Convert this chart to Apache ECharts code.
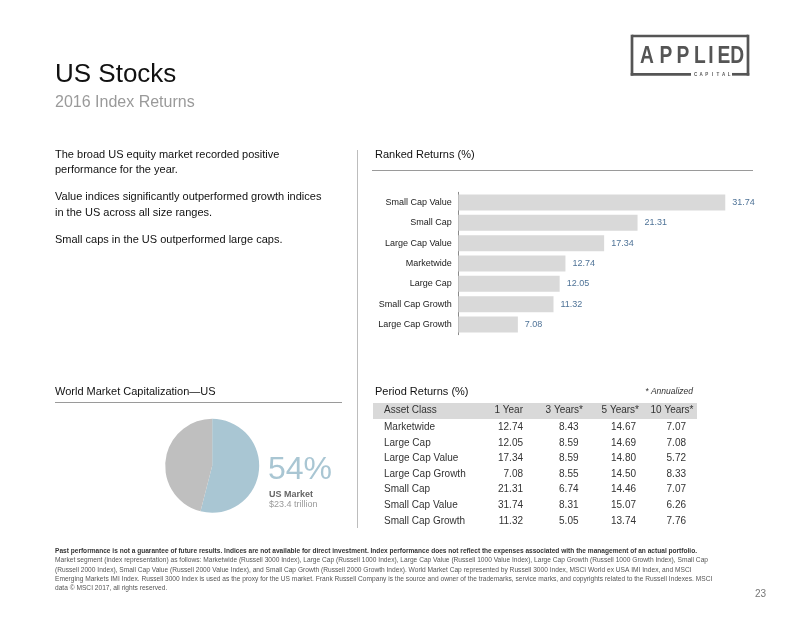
<!DOCTYPE html>
<html>
<head>
<meta charset="utf-8">
<script src="https://cdn.jsdelivr.net/npm/echarts@6/dist/echarts.min.js"></script>
<style>
html,body{margin:0;padding:0;background:#fff;}
#chart{width:800px;height:618px;}
</style>
</head>
<body>
<div id="chart"></div>
<script>
// ---------- data ----------
var rankedCategories = ['Small Cap Value','Small Cap','Large Cap Value','Marketwide','Large Cap','Small Cap Growth','Large Cap Growth'];
var rankedValues = [31.74, 21.31, 17.34, 12.74, 12.05, 11.32, 7.08];

var tableHeaders = ['Asset Class','1 Year','3 Years*','5 Years*','10 Years*'];
var tableClasses = ['Marketwide','Large Cap','Large Cap Value','Large Cap Growth','Small Cap','Small Cap Value','Small Cap Growth'];
var oneYear   = [12.74, 12.05, 17.34, 7.08, 21.31, 31.74, 11.32];
var threeYear = [8.43, 8.59, 8.59, 8.55, 6.74, 8.31, 5.05];
var fiveYear  = [14.67, 14.69, 14.80, 14.50, 14.46, 15.07, 13.74];
var tenYear   = [7.07, 7.08, 5.72, 8.33, 7.07, 6.26, 7.76];

var pieNames = ['US Market', 'Rest of World'];
var pieValues = [54, 46];

var bullets = [
  ['The broad US equity market recorded positive', 'performance for the year.'],
  ['Value indices significantly outperformed growth indices', 'in the US across all size ranges.'],
  ['Small caps in the US outperformed large caps.']
];

var footerLines = [
  'Past performance is not a guarantee of future results. Indices are not available for direct investment. Index performance does not reflect the expenses associated with the management of an actual portfolio.',
  'Market segment (index representation) as follows: Marketwide (Russell 3000 Index), Large Cap (Russell 1000 Index), Large Cap Value (Russell 1000 Value Index), Large Cap Growth (Russell 1000 Growth Index), Small Cap',
  '(Russell 2000 Index), Small Cap Value (Russell 2000 Value Index), and Small Cap Growth (Russell 2000 Growth Index). World Market Cap represented by Russell 3000 Index, MSCI World ex USA IMI Index, and MSCI',
  'Emerging Markets IMI Index. Russell 3000 Index is used as the proxy for the US market. Frank Russell Company is the source and owner of the trademarks, service marks, and copyrights related to the Russell Indexes. MSCI',
  'data \u00A9 MSCI 2017, all rights reserved.'
];

// ---------- helpers ----------
var FONT = "'Liberation Sans', Arial, sans-serif";
function txt(x, baseline, text, size, color, opts) {
  opts = opts || {};
  var weight = opts.weight || 'normal';
  var style = opts.style || 'normal';
  var fam = opts.family || FONT;
  var align = opts.align || 'left';
  var el = {
    type: 'text', x: x, y: baseline - 0.35 * size, silent: true,
    style: {
      text: text, fill: color,
      font: style + ' ' + weight + ' ' + size + 'px ' + fam,
      align: align, textAlign: align,
      verticalAlign: 'middle', textVerticalAlign: 'middle'
    }
  };
  if (opts.scaleX) { el.scaleX = opts.scaleX; el.originX = 0; el.originY = 0; }
  return el;
}
function line(x1, y1, x2, y2, color, w) {
  return { type: 'line', silent: true, shape: {x1: x1, y1: y1, x2: x2, y2: y2},
           style: {stroke: color, lineWidth: w || 1} };
}
function measure(text, font) {
  var c = document.createElement('canvas').getContext('2d');
  c.font = font;
  return c.measureText(text).width;
}

var g = [];
// Title
g.push(txt(55, 84, 'US Stocks', 26, '#111'));
g.push(txt(55, 108, '2016 Index Returns', 16, '#9a9a9a'));

// Logo
var LC = '#555';
g.push(line(632, 36, 748, 36, LC, 2.7));
g.push(line(632, 34.7, 632, 75.6, LC, 2.7));
g.push(line(748, 34.7, 748, 75.6, LC, 2.7));
g.push(line(630.7, 74.3, 691, 74.3, LC, 2.7));
g.push(line(732, 74.3, 749.3, 74.3, LC, 2.7));
var logoLetters = ['A','P','P','L','I','E','D'];
var logoX = [647, 665.8, 682.8, 699.8, 711, 723.8, 737.2];
logoLetters.forEach(function (l, i) {
  g.push(txt(logoX[i], 65.2, l, 24, LC, {weight: 'bold', align: 'center', scaleX: 0.8}));
});
var capLetters = ['C','A','P','I','T','A','L'];
capLetters.forEach(function (l, i) {
  g.push(txt(695.5 + i * 5.6, 76, l, 4.5, LC, {weight: 'bold', align: 'center'}));
});

// Left bullets
var bl = [[159.3, 174.3], [200.7, 216.7], [244.3]];
bullets.forEach(function (b, i) {
  b.forEach(function (s, j) { g.push(txt(55, bl[i][j], s, 11, '#111')); });
});

// Divider
g.push(line(357.5, 150, 357.5, 528, '#bdbdbd', 1));

// Ranked returns header
g.push(txt(375, 159, 'Ranked Returns (%)', 11, '#111'));
g.push(line(372, 170.5, 753, 170.5, '#9a9a9a', 1));

// World market cap header
g.push(txt(55, 396, 'World Market Capitalization\u2014US', 11, '#111'));
g.push(line(55, 402.5, 342, 402.5, '#9a9a9a', 1));
g.push(txt(268, 481.7, pieValues[0] + '%', 32, '#a9c6d3'));
g.push(txt(269, 497.3, pieNames[0], 9, '#666', {weight: 'bold'}));
g.push(txt(269, 507.3, '$23.4 trillion', 9, '#9a9a9a'));

// Period returns table
g.push(txt(375, 395.7, 'Period Returns (%)', 11, '#111'));
g.push(txt(693, 395, '* Annualized', 8.5, '#333', {style: 'italic', align: 'right'}));
g.push({type: 'rect', silent: true, shape: {x: 373, y: 403, width: 324, height: 16}, style: {fill: '#d9d9d9'}});
var headRight = [523, 583, 639, 693.5];
g.push(txt(384, 413.3, tableHeaders[0], 10, '#333'));
for (var h = 1; h < tableHeaders.length; h++) {
  g.push(txt(headRight[h - 1], 413.3, tableHeaders[h], 10, '#333', {align: 'right'}));
}
var colRight = [523, 578.5, 636, 686];
var cols = [oneYear, threeYear, fiveYear, tenYear];
tableClasses.forEach(function (c, r) {
  var b = 431 + r * 15.55;
  g.push(txt(384, b, c, 10, '#333'));
  cols.forEach(function (col, k) {
    g.push(txt(colRight[k], b, col[r].toFixed(2), 10, '#333', {align: 'right'}));
  });
});

// Footer (narrow face emulated by horizontal scaling)
var FS = 8;
var boldScale = 642 / measure(footerLines[0], 'bold ' + FS + 'px ' + FONT);
var regScale = 653 / measure(footerLines[1], 'normal ' + FS + 'px ' + FONT);
var footC = [550.7, 560, 569.3, 578.6, 587.9];
footerLines.forEach(function (s, i) {
  var base = footC[i] + 0.35 * FS;
  if (i === 0) g.push(txt(55, base, s, FS, '#333', {weight: 'bold', scaleX: boldScale}));
  else g.push(txt(55, base, s, FS, '#555', {scaleX: regScale}));
});
g.push(txt(766, 594 + 3.5, '23', 10, '#777', {align: 'right'}));

var chart = echarts.init(document.getElementById('chart'), null, {renderer: 'canvas'});
chart.setOption({
  animation: false,
  backgroundColor: '#fff',
  textStyle: {fontFamily: FONT},
  grid: {left: 458.3, top: 192.3, width: 302.8, height: 142.4, containLabel: false},
  xAxis: {type: 'value', min: 0, max: 36, show: false},
  yAxis: {
    type: 'category', data: rankedCategories, inverse: true,
    axisLine: {show: true, lineStyle: {color: '#8a8a8a', width: 1}},
    axisTick: {show: false},
    axisLabel: {fontSize: 9, color: '#222', margin: 6.5, fontFamily: FONT}
  },
  series: [
    {
      type: 'bar', data: rankedValues, barWidth: 16, silent: true,
      itemStyle: {color: '#d9d9d9'},
      label: {show: true, position: 'right', distance: 7, fontSize: 9, color: '#4f7397',
              fontFamily: FONT, formatter: function (p) { return p.value.toFixed(2); }}
    },
    {
      type: 'pie', center: [212.2, 465.8], radius: 47, startAngle: 90, clockwise: true,
      silent: true, label: {show: false}, labelLine: {show: false},
      data: pieValues.map(function (v, i) {
        return {value: v, name: pieNames[i], itemStyle: {color: i === 0 ? '#a9c6d3' : '#bfbfbf'}};
      })
    }
  ],
  graphic: g
});
</script>
</body>
</html>
